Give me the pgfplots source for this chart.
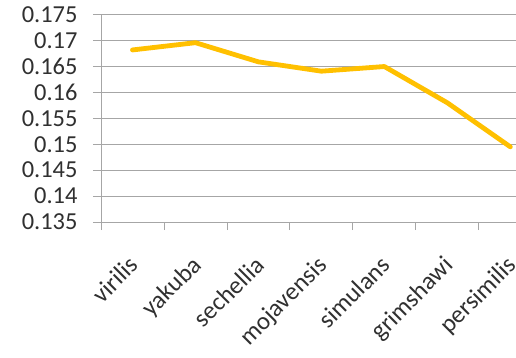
\documentclass[border=0pt]{standalone}
\usepackage{fontspec}
\setmainfont{Carlito}
\usepackage{pgfplots}
\pgfplotsset{compat=1.18}
\definecolor{linegold}{HTML}{FFC000}
\definecolor{gridgray}{HTML}{A6A6A6}
\definecolor{labeltext}{HTML}{303030}
\begin{document}
\begin{tikzpicture}
\useasboundingbox (0,0) rectangle (516bp,358bp);
\begin{axis}[
  at={(101bp,136bp)}, anchor=south west,
  scale only axis,
  width=415bp, height=207.3bp,
  xmin=-0.5, xmax=6.09,
  ymin=0.135, ymax=0.175,
  axis x line*=bottom, axis y line*=left,
  axis line style={gridgray, line width=0.9bp, -},
  ymajorgrids, major grid style={gridgray, line width=0.9bp},
  tick style={gridgray, line width=0.9bp},
  major tick length=8bp,
  tick align=outside,
  ytick={0.135,0.14,...,0.1751},
  yticklabels={0.135,0.14,0.145,0.15,0.155,0.16,0.165,0.17,0.175},
  yticklabel style={font=\fontsize{24.5}{28}\selectfont, text=labeltext, anchor=east, xshift=-12bp},
  xtick={-0.5,0.5,...,5.6},
  xticklabels={},
  extra x ticks={0,1,2,3,4,5,6},
  extra x tick labels={virilis,yakuba,sechellia,mojavensis,simulans,grimshawi,persimilis},
  extra x tick style={major tick length=0pt, grid=none,
    xticklabel style={font=\fontsize{25}{28}\selectfont, text=labeltext,
      xshift=-5bp, yshift=-31bp, rotate=45, anchor=north east, inner sep=1bp}},
  clip=false,
]
\addplot[linegold, line width=4.8bp, line join=round, line cap=round] coordinates {
  (0,0.1682) (1,0.1696) (2,0.1659) (3,0.1641) (4,0.1650) (5,0.1580) (6,0.1495)
};
\end{axis}
\end{tikzpicture}
\end{document}
